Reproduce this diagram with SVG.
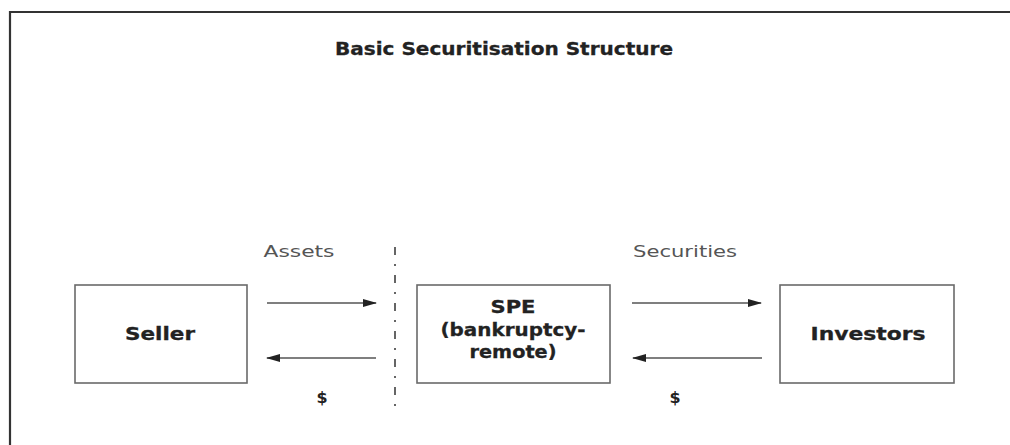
<svg xmlns="http://www.w3.org/2000/svg" width="1010" height="445" viewBox="0 0 1010 445">
  <style>
    .frame { fill: none; stroke: #333; stroke-width: 2.2; }
    .box { fill: #fff; stroke: #6a6a6a; stroke-width: 1.6; }
    .lbl { font-family: "DejaVu Sans", Verdana, sans-serif; font-weight: bold; font-size: 18px; fill: #222; stroke: #222; stroke-width: 0.3; text-anchor: middle; }
    .flow { font-family: "DejaVu Sans", Verdana, sans-serif; font-size: 16px; fill: #555; text-anchor: middle; }
    .money { font-family: "DejaVu Sans", Verdana, sans-serif; font-weight: bold; font-size: 16px; fill: #222; text-anchor: middle; }
    .arrow { stroke: #555; stroke-width: 1.6; fill: none; marker-end: url(#head); }
    .divider { stroke: #333; stroke-width: 1.5; stroke-dasharray: 8 9 2 9; fill: none; }
  </style>
  <defs>
    <marker id="head" viewBox="0 0 14 10" refX="13" refY="5" markerWidth="14" markerHeight="10" markerUnits="userSpaceOnUse" orient="auto">
      <path d="M0,1 L14,5 L0,9 z" fill="#222"/>
    </marker>
  </defs>
  <rect width="1010" height="445" fill="#fff"/>

  <!-- outer frame: top and left edges -->
  <path class="frame" d="M1010,12 H10 V445"/>

  <text x="504" y="55" class="lbl" font-size="15" textLength="338" lengthAdjust="spacingAndGlyphs">Basic Securitisation Structure</text>

  <g id="seller">
    <rect class="box" x="75" y="285" width="172" height="98"/>
    <text x="160" y="340" class="lbl" textLength="70" lengthAdjust="spacingAndGlyphs">Seller</text>
  </g>

  <g id="spe">
    <rect class="box" x="417" y="285" width="193" height="98"/>
    <text x="513" y="313" class="lbl" textLength="45" lengthAdjust="spacingAndGlyphs">SPE</text>
    <text x="513" y="336" class="lbl" textLength="145" lengthAdjust="spacingAndGlyphs">(bankruptcy-</text>
    <text x="513" y="358" class="lbl" textLength="87" lengthAdjust="spacingAndGlyphs">remote)</text>
  </g>

  <g id="investors">
    <rect class="box" x="780" y="285" width="174" height="98"/>
    <text x="868" y="340" class="lbl" textLength="115" lengthAdjust="spacingAndGlyphs">Investors</text>
  </g>

  <g id="connectors">
    <line class="divider" x1="395" y1="247" x2="395" y2="412"/>
    <line class="arrow" x1="267" y1="303" x2="376" y2="303"/>
    <line class="arrow" x1="376" y1="358" x2="267" y2="358"/>
    <line class="arrow" x1="632" y1="303" x2="761" y2="303"/>
    <line class="arrow" x1="762" y1="358" x2="633" y2="358"/>
    <text x="299" y="257" class="flow" textLength="71" lengthAdjust="spacingAndGlyphs">Assets</text>
    <text x="685" y="257" class="flow" textLength="104" lengthAdjust="spacingAndGlyphs">Securities</text>
    <text x="322" y="403" class="money">$</text>
    <text x="675" y="403" class="money">$</text>
  </g>
</svg>
